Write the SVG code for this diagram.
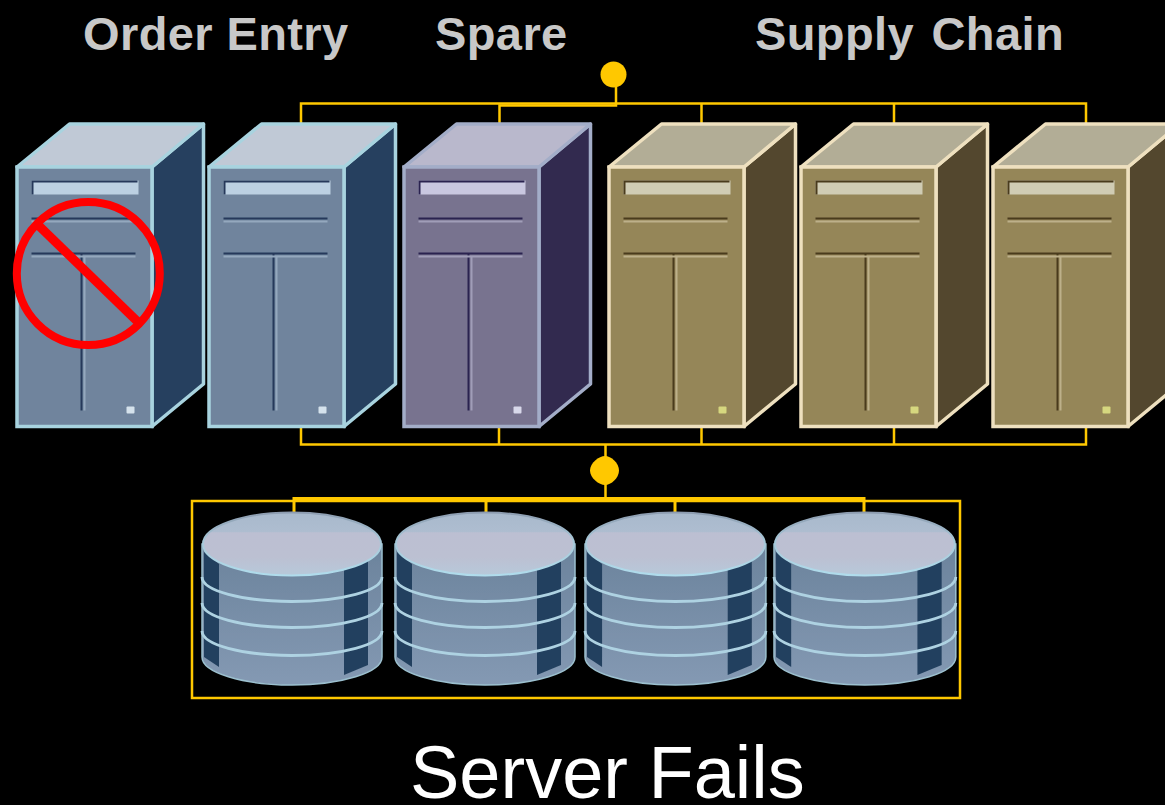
<svg xmlns="http://www.w3.org/2000/svg" width="1165" height="805" viewBox="0 0 1165 805">
<style>
.title{font-family:"Liberation Sans",Arial,sans-serif;font-weight:700;font-size:47px;fill:#c8c8c8;letter-spacing:.4px}
.caption{font-family:"Liberation Sans",Arial,sans-serif;font-size:74px;fill:#fff}
.wire{fill:none;stroke:#ffc800;stroke-width:2.5}
.wire2{fill:none;stroke:#ffc800;stroke-width:3}
.blue{--front:#70849d;--side:#27415f;--top:#c0c9d6;--edge:#a8d3df;--slot:#bcd0e2;--dark:#25395a;--light:#94a8be;--led:#d5e2ec}
.purple{--front:#78738f;--side:#322b50;--top:#b9b8cc;--edge:#a3adc8;--slot:#c9c7e0;--dark:#2a2450;--light:#a09db8;--led:#d8d8ea}
.tan{--front:#958659;--side:#52472d;--top:#b2ad96;--edge:#eee0bf;--slot:#d0ccb4;--dark:#4a3b1c;--light:#bdb08a;--led:#d6d77f}
.sv-top{fill:var(--top);stroke:var(--edge);stroke-width:3.500;stroke-linejoin:round}
.sv-side{fill:var(--side);stroke:var(--edge);stroke-width:3.500;stroke-linejoin:round}
.sv-front{fill:var(--front);stroke:var(--edge);stroke-width:3.500}
.sv-dark{stroke:var(--dark);stroke-width:2;fill:none}
.sv-light{stroke:var(--light);stroke-width:2;fill:none}
.ring{fill:none;stroke:#aed2e2;stroke-width:2.800}
</style>
<defs>
<filter id="soft" x="-5%" y="-5%" width="110%" height="110%"><feGaussianBlur stdDeviation="0.6"/></filter>
<linearGradient id="diskTop" x1="0" y1="0" x2="0" y2="1">
<stop offset="0" stop-color="#a8b9cc"/><stop offset=".31" stop-color="#aebdd0"/><stop offset=".32" stop-color="#bcbfd2"/><stop offset=".7" stop-color="#bcc0d2"/><stop offset="1" stop-color="#b7c9da"/>
</linearGradient>
<linearGradient id="diskRim" x1="0" y1="0" x2="0" y2="1">
<stop offset="0" stop-color="#8d9cb0"/><stop offset=".45" stop-color="#a7c8d8"/><stop offset="1" stop-color="#b0dcec"/>
</linearGradient>
<linearGradient id="diskBody" x1="0" y1="0" x2="0" y2="1">
<stop offset="0" stop-color="#6b839c"/><stop offset="1" stop-color="#8499b3"/>
</linearGradient>
<g id="server">
<path class="sv-side" d="M136.500 44.500L188 1.500V261.500L136.500 304Z"/>
<path class="sv-top" d="M1.500 44.500L54 1.500H188L136.500 44.500Z"/>
<rect class="sv-front" x="1.500" y="44.500" width="135" height="259.500"/>
<rect x="16" y="58" width="107" height="14" fill="var(--slot)"/>
<path class="sv-dark" d="M17 72V59H122"/>
<path class="sv-dark" d="M16 96H120M16 131H120M66 132V288"/>
<path class="sv-light" d="M16 99H120M16 134H120M69 134V288"/>
<rect x="111" y="284" width="8" height="7" rx="1" fill="var(--led)"/>
</g>
<g id="disk">
<path d="M0 32V145A90 28 0 0 0 180 145V32Z" fill="url(#diskBody)" stroke="#9cc0cf" stroke-width="1.500"/>
<path d="M2 40L17 52V155L2 145Z" fill="#24415f"/>
<path d="M142 56L166 46V153L142 163Z" fill="#24415f"/>
<path class="ring" d="M0 65A90 24.500 0 0 0 180 65M0 91A90 24.500 0 0 0 180 91M0 119A90 24.500 0 0 0 180 119"/>
<ellipse cx="90" cy="32" rx="89" ry="31.500" fill="url(#diskTop)" stroke="url(#diskRim)" stroke-width="2"/>
</g>
</defs>
<rect width="1165" height="805" fill="#000"/>
<g id="labels">
<text class="title" x="83" y="50">Order Entry</text>
<text class="title" x="435" y="50">Spare</text>
<text class="title" x="755" y="50" word-spacing="4">Supply Chain</text>
<text class="caption" x="410" y="798">Server Fails</text>
</g>
<g id="connectors">
<path class="wire" d="M301 123V103.500H1086V123M701.500 104V123M894 104V123"/>
<path class="wire" d="M616 84V105.500H499.500V123" stroke-width="3"/>
<path class="wire" d="M301 428V444.500H1086V428M499 428V444M701.500 428V444M894 428V444"/>
<path class="wire" d="M605.500 444V498" stroke-width="3"/>
<rect class="wire" x="192" y="501" width="768" height="197"/>
<path class="wire2" d="M294 512V498.500H864V512M486 499V512M675 499V512"/>
</g>
<g id="hub-top"><circle cx="613.500" cy="74.500" r="13" fill="#ffc800"/></g>
<g id="hub-bottom"><path d="M605 456C611 456 619 463 619 470.500C619 478 611 485 605 485C599 485 590 478 590 470.500C590 463 599 456 605 456Z" fill="#ffc800"/></g>
<g id="server-1" filter="url(#soft)"><use href="#server" class="blue" x="15.500" y="122.500"/></g>
<g id="server-2" filter="url(#soft)"><use href="#server" class="blue" x="207.500" y="122.500"/></g>
<g id="server-3" filter="url(#soft)"><use href="#server" class="purple" x="402.500" y="122.500"/></g>
<g id="server-4" filter="url(#soft)"><use href="#server" class="tan" x="607.500" y="122.500"/></g>
<g id="server-5" filter="url(#soft)"><use href="#server" class="tan" x="799.500" y="122.500"/></g>
<g id="server-6" filter="url(#soft)"><use href="#server" class="tan" x="991.500" y="122.500"/></g>
<g id="disk-1" filter="url(#soft)"><use href="#disk" x="202" y="512"/></g>
<g id="disk-2" filter="url(#soft)"><use href="#disk" x="395" y="512"/></g>
<g id="disk-3" filter="url(#soft)"><use href="#disk" transform="translate(585 512) scale(1.005 1)"/></g>
<g id="disk-4" filter="url(#soft)"><use href="#disk" transform="translate(774 512) scale(1.01 1)"/></g>
<g id="failed-mark" fill="none" stroke="#f00">
<circle cx="88.300" cy="273.500" r="71.500" stroke-width="8"/>
<path d="M36 223L139 323" stroke-width="9"/>
</g>
</svg>
